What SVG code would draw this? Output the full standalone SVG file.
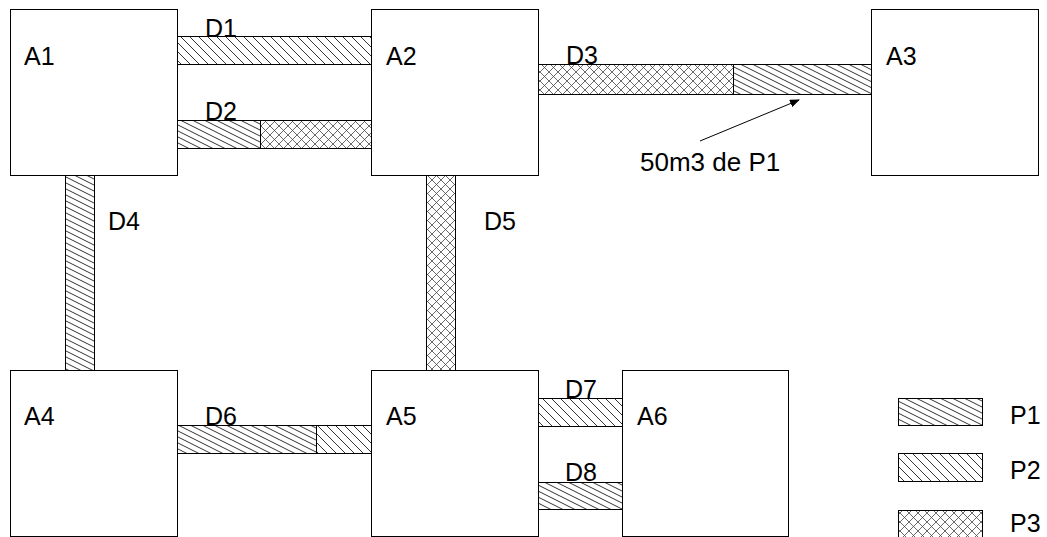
<svg xmlns="http://www.w3.org/2000/svg" width="1047" height="537" viewBox="0 0 1047 537">
<style>
.box{fill:#fff;stroke:#000;stroke-width:1}
.seg{stroke:#000;stroke-width:1}
.p1{fill:url(#P1)}
.p2{fill:url(#P2)}
.p3{fill:url(#P3)}
text{font-family:"Liberation Sans",Arial,sans-serif;font-size:25px;fill:#000}
.small{font-size:26px}
</style>
<defs>
<pattern id="P1" patternUnits="userSpaceOnUse" width="12" height="6">
<rect width="12" height="6" fill="#fff"/>
<path d="M-12,-6 L24,12 M-12,0 L12,12 M0,-6 L24,6" stroke="#000" stroke-width="0.8"/>
</pattern>
<pattern id="P2" patternUnits="userSpaceOnUse" width="9" height="9">
<rect width="9" height="9" fill="#fff"/>
<path d="M-9,-9 L18,18 M-9,0 L9,18 M0,-9 L18,9" stroke="#000" stroke-width="0.8"/>
</pattern>
<pattern id="P3" patternUnits="userSpaceOnUse" width="9" height="9">
<rect width="9" height="9" fill="#fff"/>
<path d="M-9,-9 L18,18 M-9,0 L9,18 M0,-9 L18,9 M18,-9 L-9,18 M9,-9 L-9,9 M18,0 L0,18" stroke="#444" stroke-width="0.8"/>
</pattern>
<marker id="arr" markerWidth="10" markerHeight="8" refX="9" refY="4" orient="auto" markerUnits="userSpaceOnUse">
<path d="M0,0 L10,4 L0,8 Z" fill="#000"/>
</marker>
</defs>
<g id="connectors">
<g id="D1"><rect class="seg p2" x="177.5" y="36.5" width="194" height="28"/><text x="205" y="37">D1</text></g>
<g id="D2"><rect class="seg p1" x="177.5" y="120.5" width="83" height="28"/><rect class="seg p3" x="260.5" y="120.5" width="111" height="28"/><text x="205" y="120">D2</text></g>
<g id="D3"><rect class="seg p3" x="538.5" y="64.5" width="195" height="30"/><rect class="seg p1" x="733.5" y="64.5" width="138" height="30"/><text x="566" y="64">D3</text></g>
<g id="D4"><rect class="seg p1" x="65.5" y="175.5" width="29" height="195"/><text x="108" y="230">D4</text></g>
<g id="D5"><rect class="seg p3" x="426.5" y="175.5" width="29" height="195"/><text x="484" y="230">D5</text></g>
<g id="D6"><rect class="seg p1" x="177.5" y="425.5" width="139" height="28"/><rect class="seg p2" x="316.5" y="425.5" width="55" height="28"/><text x="205" y="425">D6</text></g>
<g id="D7"><rect class="seg p2" x="538.5" y="398.5" width="84" height="28"/><text x="565" y="398">D7</text></g>
<g id="D8"><rect class="seg p1" x="538.5" y="482.5" width="84" height="27"/><text x="565" y="481">D8</text></g>
<g id="note"><line x1="700" y1="141" x2="799" y2="100" stroke="#000" stroke-width="1" marker-end="url(#arr)"/><text class="small" x="640" y="171">50m3 de P1</text></g>
</g>
<g id="A1"><rect class="box" x="10.5" y="9.5" width="167" height="166"/><text x="24" y="65">A1</text></g>
<g id="A2"><rect class="box" x="371.5" y="9.5" width="167" height="166"/><text x="386" y="65">A2</text></g>
<g id="A3"><rect class="box" x="871.5" y="9.5" width="167" height="166"/><text x="886" y="65">A3</text></g>
<g id="A4"><rect class="box" x="10.5" y="370.5" width="167" height="166"/><text x="24" y="425">A4</text></g>
<g id="A5"><rect class="box" x="371.5" y="370.5" width="167" height="166"/><text x="386" y="425">A5</text></g>
<g id="A6"><rect class="box" x="622.5" y="370.5" width="166" height="166"/><text x="637" y="425">A6</text></g>
<g id="legend">
<rect class="seg p1" x="898.5" y="398.5" width="84" height="27"/><text x="1010" y="424">P1</text>
<rect class="seg p2" x="898.5" y="453.5" width="84" height="28"/><text x="1010" y="479">P2</text>
<rect class="seg p3" x="898.5" y="510.5" width="84" height="28"/><text x="1010" y="532">P3</text>
</g>
</svg>
